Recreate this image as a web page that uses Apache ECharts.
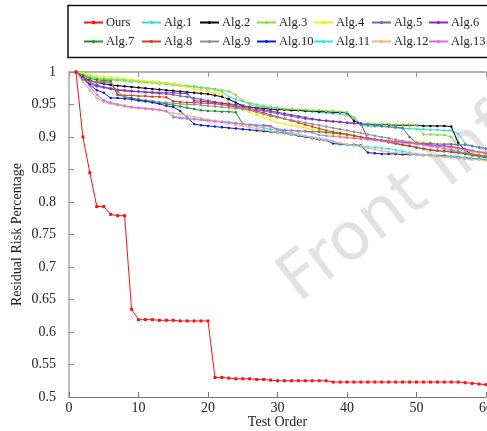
<!DOCTYPE html>
<html><head><meta charset="utf-8">
<script src="https://cdn.jsdelivr.net/npm/echarts@6/dist/echarts.min.js"></script>
<style>html,body{margin:0;padding:0;background:#fff}#c{width:487px;height:431px}</style>
</head><body><div id="c"></div>
<script>
const testOrder = [1,2,3,4,5,6,7,8,9,10,11,12,13,14,15,16,17,18,19,20,21,22,23,24,25,26,27,28,29,30,31,32,33,34,35,36,37,38,39,40,41,42,43,44,45,46,47,48,49,50,51,52,53,54,55,56,57,58,59,60];
const seriesNames = ['Ours','Alg.1','Alg.2','Alg.3','Alg.4','Alg.5','Alg.6','Alg.7','Alg.8','Alg.9','Alg.10','Alg.11','Alg.12','Alg.13'];
const ours = [1,0.9,0.845,0.793,0.793,0.781,0.779,0.779,0.635,0.619, 0.619,0.619,0.618,0.618,0.618,0.617,0.617,0.617,0.617,0.617, 0.53,0.53,0.529,0.528,0.528,0.528,0.527,0.527,0.526,0.525, 0.525,0.525,0.525,0.525,0.525,0.525,0.525,0.523,0.523,0.523, 0.523,0.523,0.523,0.523,0.523,0.523,0.523,0.523,0.523,0.523, 0.523,0.523,0.523,0.523,0.523,0.523,0.522,0.521,0.52,0.519];
const alg1 = [1,0.997,0.993,0.991,0.99,0.989,0.988,0.988,0.987,0.986, 0.985,0.985,0.984,0.983,0.982,0.98,0.979,0.978,0.976,0.975, 0.973,0.97,0.962,0.958,0.955,0.952,0.95,0.948,0.946,0.945, 0.943,0.942,0.941,0.94,0.939,0.938,0.937,0.936,0.935,0.934, 0.93,0.918,0.917,0.916,0.916,0.915,0.914,0.913,0.913,0.912, 0.912,0.911,0.911,0.91,0.91,0.905,0.89,0.886,0.884,0.882];
const alg2 = [1,0.992,0.987,0.984,0.982,0.98,0.979,0.978,0.977,0.976, 0.975,0.974,0.973,0.972,0.971,0.97,0.969,0.968,0.967,0.966, 0.964,0.962,0.958,0.953,0.948,0.946,0.945,0.944,0.943,0.942, 0.942,0.941,0.941,0.94,0.94,0.939,0.939,0.938,0.938,0.937, 0.925,0.92,0.92,0.919,0.919,0.919,0.918,0.918,0.918,0.918, 0.917,0.917,0.917,0.917,0.916,0.891,0.88,0.873,0.872,0.871];
const alg3 = [1,0.996,0.992,0.99,0.989,0.988,0.987,0.986,0.985,0.985, 0.984,0.983,0.982,0.981,0.98,0.979,0.978,0.977,0.976,0.975, 0.974,0.972,0.97,0.965,0.956,0.95,0.947,0.946,0.945,0.944, 0.943,0.943,0.942,0.942,0.941,0.941,0.94,0.94,0.939,0.938, 0.93,0.921,0.921,0.92,0.92,0.92,0.919,0.919,0.919,0.918, 0.904,0.904,0.903,0.903,0.9,0.884,0.88,0.877,0.876,0.875];
const alg4 = [1,0.998,0.996,0.994,0.993,0.992,0.991,0.99,0.988,0.987, 0.986,0.985,0.984,0.983,0.982,0.98,0.977,0.974,0.972,0.97, 0.968,0.966,0.952,0.946,0.942,0.938,0.934,0.93,0.926,0.922, 0.92,0.918,0.916,0.914,0.912,0.91,0.907,0.904,0.902,0.9, 0.899,0.898,0.897,0.896,0.895,0.895,0.894,0.894,0.893,0.893, 0.892,0.891,0.89,0.889,0.887,0.884,0.88,0.877,0.875,0.873];
const alg5 = [1,0.99,0.984,0.98,0.977,0.975,0.973,0.972,0.971,0.97, 0.969,0.968,0.967,0.966,0.965,0.963,0.962,0.96,0.958,0.956, 0.954,0.952,0.95,0.948,0.946,0.944,0.942,0.94,0.938,0.936, 0.934,0.932,0.93,0.928,0.927,0.926,0.925,0.924,0.923,0.922, 0.921,0.92,0.919,0.918,0.917,0.916,0.915,0.914,0.9,0.891, 0.89,0.89,0.889,0.889,0.889,0.888,0.888,0.886,0.884,0.882];
const alg6 = [1,0.99,0.982,0.978,0.976,0.974,0.972,0.971,0.97,0.97, 0.969,0.969,0.968,0.968,0.968,0.967,0.967,0.956,0.955,0.954, 0.953,0.952,0.951,0.95,0.948,0.946,0.944,0.942,0.94,0.938, 0.936,0.934,0.932,0.93,0.928,0.926,0.925,0.924,0.923,0.922, 0.921,0.921,0.897,0.896,0.895,0.894,0.893,0.892,0.891,0.89, 0.889,0.888,0.887,0.886,0.885,0.883,0.881,0.879,0.877,0.875];
const alg7 = [1,0.995,0.99,0.988,0.987,0.986,0.965,0.962,0.96,0.958, 0.956,0.955,0.953,0.951,0.949,0.947,0.945,0.943,0.941,0.94, 0.94,0.939,0.939,0.938,0.92,0.919,0.918,0.918,0.917,0.911, 0.91,0.91,0.909,0.909,0.908,0.908,0.907,0.906,0.905,0.904, 0.902,0.9,0.898,0.896,0.894,0.892,0.89,0.888,0.886,0.884, 0.882,0.88,0.879,0.878,0.877,0.876,0.874,0.872,0.87,0.868];
const alg8 = [1,0.99,0.986,0.985,0.985,0.984,0.965,0.964,0.964,0.963, 0.963,0.962,0.962,0.961,0.955,0.954,0.953,0.953,0.952,0.952, 0.951,0.95,0.948,0.946,0.944,0.942,0.94,0.937,0.934,0.931, 0.928,0.925,0.922,0.919,0.916,0.913,0.91,0.908,0.906,0.904, 0.902,0.9,0.898,0.896,0.894,0.892,0.89,0.888,0.886,0.884, 0.882,0.88,0.879,0.878,0.877,0.876,0.875,0.873,0.871,0.87];
const alg9 = [1,0.988,0.985,0.984,0.984,0.983,0.97,0.962,0.958,0.956, 0.955,0.954,0.953,0.953,0.952,0.951,0.95,0.95,0.949,0.948, 0.947,0.946,0.945,0.944,0.943,0.941,0.938,0.935,0.932,0.93, 0.928,0.926,0.924,0.922,0.92,0.918,0.916,0.914,0.912,0.91, 0.908,0.906,0.904,0.902,0.9,0.898,0.896,0.894,0.892,0.89, 0.888,0.886,0.884,0.882,0.88,0.878,0.876,0.874,0.872,0.871];
const alg10 = [1,0.99,0.98,0.972,0.968,0.96,0.96,0.959,0.958,0.956, 0.955,0.953,0.951,0.948,0.946,0.94,0.93,0.92,0.918,0.917, 0.916,0.915,0.914,0.913,0.912,0.911,0.91,0.909,0.908,0.907, 0.906,0.904,0.902,0.9,0.898,0.896,0.895,0.89,0.889,0.888, 0.888,0.887,0.876,0.875,0.874,0.874,0.874,0.873,0.873,0.873, 0.872,0.872,0.871,0.871,0.87,0.869,0.868,0.867,0.866,0.865];
const alg11 = [1,0.985,0.972,0.96,0.955,0.952,0.95,0.948,0.946,0.945, 0.944,0.943,0.942,0.94,0.932,0.93,0.929,0.928,0.927,0.926, 0.925,0.924,0.923,0.922,0.92,0.918,0.916,0.914,0.912,0.91, 0.908,0.906,0.904,0.902,0.9,0.898,0.896,0.894,0.89,0.888, 0.887,0.886,0.885,0.884,0.883,0.882,0.88,0.878,0.876,0.874, 0.873,0.872,0.871,0.87,0.87,0.869,0.868,0.867,0.866,0.866];
const alg12 = [1,0.985,0.972,0.96,0.954,0.951,0.949,0.947,0.945,0.944, 0.943,0.942,0.941,0.939,0.937,0.935,0.933,0.931,0.929,0.927, 0.925,0.923,0.921,0.919,0.917,0.915,0.913,0.911,0.909,0.907, 0.905,0.904,0.903,0.901,0.899,0.897,0.895,0.893,0.891,0.889, 0.887,0.885,0.883,0.881,0.879,0.877,0.876,0.875,0.874,0.873, 0.872,0.871,0.87,0.869,0.868,0.867,0.866,0.865,0.865,0.864];
const alg13 = [1,0.99,0.978,0.965,0.957,0.953,0.95,0.948,0.946,0.945, 0.944,0.943,0.942,0.94,0.93,0.929,0.928,0.927,0.926,0.925, 0.924,0.923,0.922,0.921,0.92,0.919,0.918,0.917,0.916,0.912, 0.911,0.91,0.909,0.908,0.907,0.903,0.902,0.901,0.9,0.899, 0.898,0.897,0.896,0.895,0.894,0.893,0.892,0.891,0.89,0.889, 0.888,0.887,0.886,0.885,0.884,0.882,0.88,0.878,0.877,0.876];
const xTicks = [0,10,20,30,40,50,60];
const yTicks = [0.5,0.55,0.6,0.65,0.7,0.75,0.8,0.85,0.9,0.95,1];

const allData = [ours,alg1,alg2,alg3,alg4,alg5,alg6,alg7,alg8,alg9,alg10,alg11,alg12,alg13];
const colors = ['#ff1010','#40d8d0','#000000','#80e040','#f0f000','#6070b0','#9020d0','#209030','#e03818','#909090','#0020e0','#20e8f0','#ffb070','#f060f0'];
const FONT = 'Liberation Serif';

const chart = echarts.init(document.getElementById('c'), null, {renderer:'canvas'});
const colX = [83,141,199,256,313,371,428];
const legends = seriesNames.map((n,i)=>({
  data:[n], left: colX[i%7], top: i<7 ? 16 : 35, padding:0, itemWidth:19, itemHeight:4, itemGap:0,
  textStyle:{fontFamily:FONT, fontSize:12.5, color:'#222', padding:[0,0,0,-2]}, selectedMode:false
}));
const series = seriesNames.map((n,i)=>({
  name:n, type:'line', data: testOrder.map((x,k)=>[x, allData[i][k]]),
  symbol: i===0 ? 'rect' : 'circle', symbolSize: i===0 ? 3 : 2.5,
  lineStyle:{width:1, color:colors[i]}, itemStyle:{color:colors[i]},
  z: i===0 ? 5 : 3, animation:false
}));
chart.setOption({
  animation:false,
  textStyle:{fontFamily:FONT},
  grid:{left:69, right:1, top:72, bottom:34, outerBoundsMode:'none', containLabel:false},
  legend: legends,
  graphic:[
    {type:'rect', shape:{x:68, y:5.5, width:440, height:52}, style:{fill:'none', stroke:'#111', lineWidth:1.5}, z:10},
    {type:'text', x:268, y:264, rotation:0.66, z:-1, style:{text:'Front Info', fontSize:66, fontFamily:'DejaVu Sans', fill:'#e2e2e2'}}
  ],
  xAxis:[{type:'value', min:0, max:60, interval:10, position:'bottom',
    name:'Test Order', nameLocation:'middle', nameGap:18, nameMoveOverlap:false, nameTextStyle:{fontFamily:FONT, fontSize:14, color:'#222'},
    axisLine:{lineStyle:{color:'#777', width:1.2}}, axisTick:{inside:true, length:5, lineStyle:{color:'#777'}},
    axisLabel:{fontFamily:FONT, fontSize:14, color:'#222', margin:4}, splitLine:{show:false}},
    {type:'value', min:0, max:60, interval:10, position:'top',
    axisLine:{lineStyle:{color:'#999', width:1.5}}, axisTick:{inside:true, length:5, lineStyle:{color:'#999'}},
    axisLabel:{show:false}, splitLine:{show:false}}],
  yAxis:{type:'value', min:0.5, max:1, interval:0.05,
    name:'Residual Risk Percentage', nameLocation:'middle', nameGap:45, nameMoveOverlap:false, nameRotate:90,
    nameTextStyle:{fontFamily:FONT, fontSize:14, color:'#222'},
    axisLine:{show:true, lineStyle:{color:'#aaa', width:1.5}}, axisTick:{show:true, inside:true, length:5, lineStyle:{color:'#888'}},
    axisLabel:{fontFamily:FONT, fontSize:14, color:'#222', margin:13, formatter:v=>String(+v.toFixed(2))}, splitLine:{show:false}},
  series: series
});
</script></body></html>
